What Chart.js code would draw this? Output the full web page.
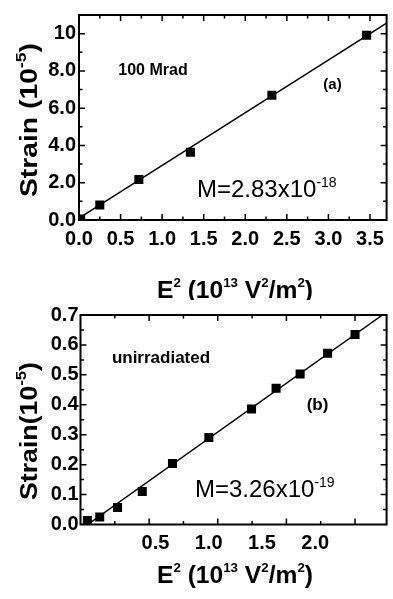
<!DOCTYPE html>
<html><head><meta charset="utf-8">
<script src="https://cdn.jsdelivr.net/npm/chart.js@4"></script>
<style>
html,body{margin:0;padding:0;background:#fff;}
#wrap{position:relative;width:393px;height:599px;overflow:hidden;}
canvas{position:absolute;left:0;}
</style></head><body>
<div id="wrap">
<canvas id="c1" width="393" height="300" style="top:0"></canvas>
<canvas id="c2" width="393" height="299" style="top:300px"></canvas>
</div>
<script>
// ---- Panel (a): 100 Mrad ----
const aE2 = [0.02, 0.25, 0.72, 1.34, 2.32, 3.46];
const aStrain = [0.05, 0.80, 2.17, 3.64, 6.69, 9.91];
const aFitE2 = [0.0, 3.7];
const aFitStrain = [0.1, 10.57];
const aXTicks = [0, 0.5, 1.0, 1.5, 2.0, 2.5, 3.0, 3.5];
const aYTicks = [0, 2, 4, 6, 8, 10];
// ---- Panel (b): unirradiated ----
const bE2 = [0.05, 0.14, 0.27, 0.45, 0.67, 0.935, 1.246, 1.425, 1.60, 1.80, 2.00];
const bStrain = [0.013, 0.025, 0.057, 0.11, 0.204, 0.291, 0.386, 0.455, 0.503, 0.572, 0.635];
const bFitE2 = [0.052, 2.2];
const bFitStrain = [0.0, 0.7];
const bXTickLabels = [0.5, 1.0, 1.5, 2.0];
const bYTicks = [0, 0.1, 0.2, 0.3, 0.4, 0.5, 0.6, 0.7];

const FONT = '"Liberation Sans", Arial, Helvetica, sans-serif';

function drawRich(ctx, t) {
  ctx.save();
  ctx.translate(t.x, t.y);
  if (t.rot) ctx.rotate(t.rot * Math.PI / 180);
  let w = 0;
  t.parts.forEach(p => { ctx.font = p[2] + ' ' + p[1] + 'px ' + FONT; w += ctx.measureText(p[0]).width; });
  const k = t.fitLen ? t.fitLen / w : 1;
  ctx.scale(k, 1);
  let cx = t.align === 'left' ? 0 : -w / 2;
  ctx.fillStyle = '#000';
  ctx.textBaseline = 'alphabetic';
  ctx.textAlign = 'left';
  t.parts.forEach(p => {
    ctx.font = p[2] + ' ' + p[1] + 'px ' + FONT;
    ctx.fillText(p[0], cx, -(p[3] || 0));
    cx += ctx.measureText(p[0]).width;
  });
  ctx.restore();
}

const decoPlugin = {
  id: 'deco',
  afterDatasetsDraw(chart, args, o) {
    const ctx = chart.ctx, a = chart.chartArea;
    const xs = chart.scales.x, ys = chart.scales.y;
    ctx.save();
    ctx.strokeStyle = '#000';
    ctx.lineWidth = 1.5;
    ctx.beginPath();
    const n = Math.round((xs.max - xs.min) / o.xStep);
    for (let i = 1; i <= n + 1; i++) {
      const v = xs.min + i * o.xStep;
      if (v >= xs.max - 1e-9) break;
      const px = xs.getPixelForValue(v);
      const len = (i % o.xMajor === 0) ? 6 : 3.5;
      ctx.moveTo(px, a.bottom); ctx.lineTo(px, a.bottom - len);
      ctx.moveTo(px, a.top); ctx.lineTo(px, a.top + len);
    }
    const m = Math.round((ys.max - ys.min) / o.yStep);
    for (let i = 1; i <= m + 1; i++) {
      const v = ys.min + i * o.yStep;
      if (v >= ys.max - 1e-9) break;
      const py = ys.getPixelForValue(v);
      const len = (i % o.yMajor === 0) ? 6 : 3.5;
      ctx.moveTo(a.left, py); ctx.lineTo(a.left + len, py);
      ctx.moveTo(a.right, py); ctx.lineTo(a.right - len, py);
    }
    ctx.stroke();
    ctx.lineWidth = 2;
    ctx.strokeRect(a.left, a.top, a.right - a.left, a.bottom - a.top);
    ctx.restore();
  },
  afterDraw(chart, args, o) {
    (o.texts || []).forEach(t => drawRich(chart.ctx, t));
  }
};

const tickFont = { family: FONT, size: 20, weight: 'bold' };

// ---- Chart (a) ----
new Chart(document.getElementById('c1'), {
  type: 'scatter',
  data: { datasets: [
    { data: aE2.map((x, i) => ({ x, y: aStrain[i] })), pointStyle: 'rect', pointRadius: 6.4,
      backgroundColor: '#000', borderColor: '#000', borderWidth: 0, showLine: false },
    { data: aFitE2.map((x, i) => ({ x, y: aFitStrain[i] })), showLine: true, borderColor: '#000',
      borderWidth: 1.5, pointRadius: 0, fill: false }
  ]},
  options: {
    responsive: false, animation: false, devicePixelRatio: 1,
    layout: { padding: { left: 0, right: 3, top: 12, bottom: 0 } },
    plugins: {
      legend: { display: false }, tooltip: { enabled: false },
      deco: {
        xStep: 0.25, xMajor: 2, yStep: 1, yMajor: 2,
        texts: [
          { x: 36.5, y: 120, rot: -90, fitLen: 154, parts: [['Strain (10', 24, 'bold'], ['-5', 15, 'bold', 11], [')', 24, 'bold']] },
          { x: 235, y: 298, fitLen: 156, parts: [['E', 24, 'bold'], ['2', 13, 'bold', 11], [' (10', 24, 'bold'], ['13', 13, 'bold', 11], [' V', 24, 'bold'], ['2', 13, 'bold', 11], ['/m', 24, 'bold'], ['2', 13, 'bold', 11], [')', 24, 'bold']] },
          { x: 153, y: 75, parts: [['100 Mrad', 16, 'bold']] },
          { x: 332.5, y: 89, parts: [['(a)', 15, 'bold']] },
          { x: 197, y: 197, align: 'left', parts: [['M=2.83x10', 24, 'normal'], ['-18', 14, 'normal', 10]] }
        ]
      }
    },
    scales: {
      x: { type: 'linear', min: 0, max: 3.7,
        afterBuildTicks: s => { s.ticks = aXTicks.map(v => ({ value: v })); },
        afterFit: s => { s.height = 80; },
        grid: { display: false, drawTicks: false }, border: { display: false },
        ticks: { color: '#000', font: tickFont, padding: 7, maxRotation: 0, autoSkip: false,
          callback: v => Number(v).toFixed(1) } },
      y: { type: 'linear', min: 0, max: 11,
        afterBuildTicks: s => { s.ticks = aYTicks.map(v => ({ value: v })); },
        afterFit: s => { s.width = 79; },
        grid: { display: false, drawTicks: false }, border: { display: false },
        ticks: { color: '#000', font: tickFont, padding: 3, autoSkip: false,
          callback: v => (v === 10 ? '10' : Number(v).toFixed(1)) } }
    }
  },
  plugins: [decoPlugin]
});

// ---- Chart (b) ----
new Chart(document.getElementById('c2'), {
  type: 'scatter',
  data: { datasets: [
    { data: bE2.map((x, i) => ({ x, y: bStrain[i] })), pointStyle: 'rect', pointRadius: 6.4,
      backgroundColor: '#000', borderColor: '#000', borderWidth: 0, showLine: false },
    { data: bFitE2.map((x, i) => ({ x, y: bFitStrain[i] })), showLine: true, borderColor: '#000',
      borderWidth: 1.5, pointRadius: 0, fill: false }
  ]},
  options: {
    responsive: false, animation: false, devicePixelRatio: 1,
    layout: { padding: { left: 0, right: 1.4, top: 15, bottom: 0 } },
    plugins: {
      legend: { display: false }, tooltip: { enabled: false },
      deco: {
        xStep: 0.25, xMajor: 2, yStep: 0.05, yMajor: 2,
        texts: [
          { x: 36.5, y: 131, rot: -90, fitLen: 138, parts: [['Strain(10', 24, 'bold'], ['-5', 15, 'bold', 11], [')', 24, 'bold']] },
          { x: 235, y: 283, fitLen: 156, parts: [['E', 24, 'bold'], ['2', 13, 'bold', 11], [' (10', 24, 'bold'], ['13', 13, 'bold', 11], [' V', 24, 'bold'], ['2', 13, 'bold', 11], ['/m', 24, 'bold'], ['2', 13, 'bold', 11], [')', 24, 'bold']] },
          { x: 161, y: 63, parts: [['unirradiated', 17, 'bold']] },
          { x: 317.5, y: 110, parts: [['(b)', 17, 'bold']] },
          { x: 195, y: 197, align: 'left', parts: [['M=3.26x10', 24, 'normal'], ['-19', 14, 'normal', 10]] }
        ]
      }
    },
    scales: {
      x: { type: 'linear', display: false, min: 0, max: 2.23 },
      xl: { type: 'linear', position: 'bottom', min: -0.204, max: 2.671,
        afterBuildTicks: s => { s.ticks = bXTickLabels.map(v => ({ value: v })); },
        afterFit: s => { s.height = 74.5; },
        grid: { display: false, drawTicks: false }, border: { display: false },
        ticks: { color: '#000', font: tickFont, padding: 7, maxRotation: 0, autoSkip: false,
          callback: v => Number(v).toFixed(1) } },
      y: { type: 'linear', min: 0, max: 0.7,
        afterBuildTicks: s => { s.ticks = bYTicks.map(v => ({ value: v })); },
        afterFit: s => { s.width = 80.5; },
        grid: { display: false, drawTicks: false }, border: { display: false },
        ticks: { color: '#000', font: tickFont, padding: 2, autoSkip: false,
          callback: v => Number(v).toFixed(1) } }
    }
  },
  plugins: [decoPlugin]
});
</script>
</body></html>
